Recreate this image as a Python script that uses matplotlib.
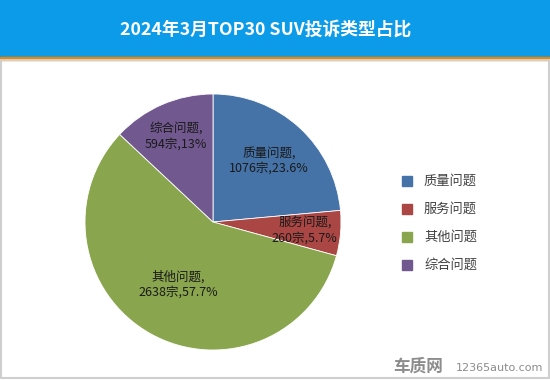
import numpy as np
import matplotlib
matplotlib.use('Agg')
import matplotlib.pyplot as plt
from matplotlib.patches import Rectangle

plt.rcParams['font.family'] = ['Noto Sans CJK SC', 'DejaVu Sans']

# data
title = '2024年3月TOP30 SUV投诉类型占比'
categories = ['质量问题', '服务问题', '其他问题', '综合问题']
counts = [1076, 260, 2638, 594]
colors = ['#4572A7', '#AA4643', '#89A54E', '#71588F']

total = sum(counts)

def pct_text(v):
    s = '%.1f' % (100.0 * v / total)
    if s.endswith('.0'):
        s = s[:-2]
    return s + '%'

fig = plt.figure(figsize=(5.5, 3.8), dpi=100)

# header band + orange rule
fig.patches.append(Rectangle((0, 323 / 380), 1, 57 / 380, transform=fig.transFigure,
                             color='#0C9BE9', zorder=0))
fig.patches.append(Rectangle((0, 320 / 380), 1, 3 / 380, transform=fig.transFigure,
                             color='#F08300', zorder=1))
fig.text(266 / 550, 1 - 30 / 380, title, color='white', fontsize=12.8,
         fontweight='bold', ha='center', va='center')

# gray frame around the chart area
fig.patches.append(Rectangle((1 / 550, 2 / 380), 548 / 550, 318 / 380,
                             transform=fig.transFigure, fill=False,
                             edgecolor='#CFCFCF', linewidth=1.5, zorder=1))

ax = fig.add_axes([85 / 550, 30 / 380, 256 / 550, 256 / 380])
wedges, _ = ax.pie(counts, colors=colors, startangle=90, counterclock=False,
                   wedgeprops=dict(edgecolor='white', linewidth=0.6))
ax.set_xlim(-1, 1)
ax.set_ylim(-1, 1)
ax.set_aspect('equal')

label_r = [0.65, 0.72, 0.56, 0.73]
for w, name, v, r in zip(wedges, categories, counts, label_r):
    ang = np.deg2rad((w.theta1 + w.theta2) / 2)
    ax.text(r * np.cos(ang), r * np.sin(ang), '%s,\n%d宗,%s' % (name, v, pct_text(v)),
            ha='center', va='center', fontsize=9, color='#1A1A1A', linespacing=1.25)

# legend
for i, (name, c) in enumerate(zip(categories, colors)):
    y = 1 - (181 + 28 * i) / 380
    fig.patches.append(Rectangle((402 / 550, y - 5 / 380), 10 / 550, 10 / 380,
                                 transform=fig.transFigure, color=c, zorder=2))
    fig.text(424 / 550, y, name, fontsize=9.5, color='#404040', va='center')

# watermark
fig.text(393 / 550, 1 - 367 / 380, '车质网', fontsize=12, color='#8C8C8C',
         fontweight='bold', va='center')
fig.text(456 / 550, 1 - 368 / 380, '12365auto.com', fontsize=8, color='#8C8C8C',
         va='center', family='DejaVu Sans')

fig.savefig('out.png', dpi=100)
